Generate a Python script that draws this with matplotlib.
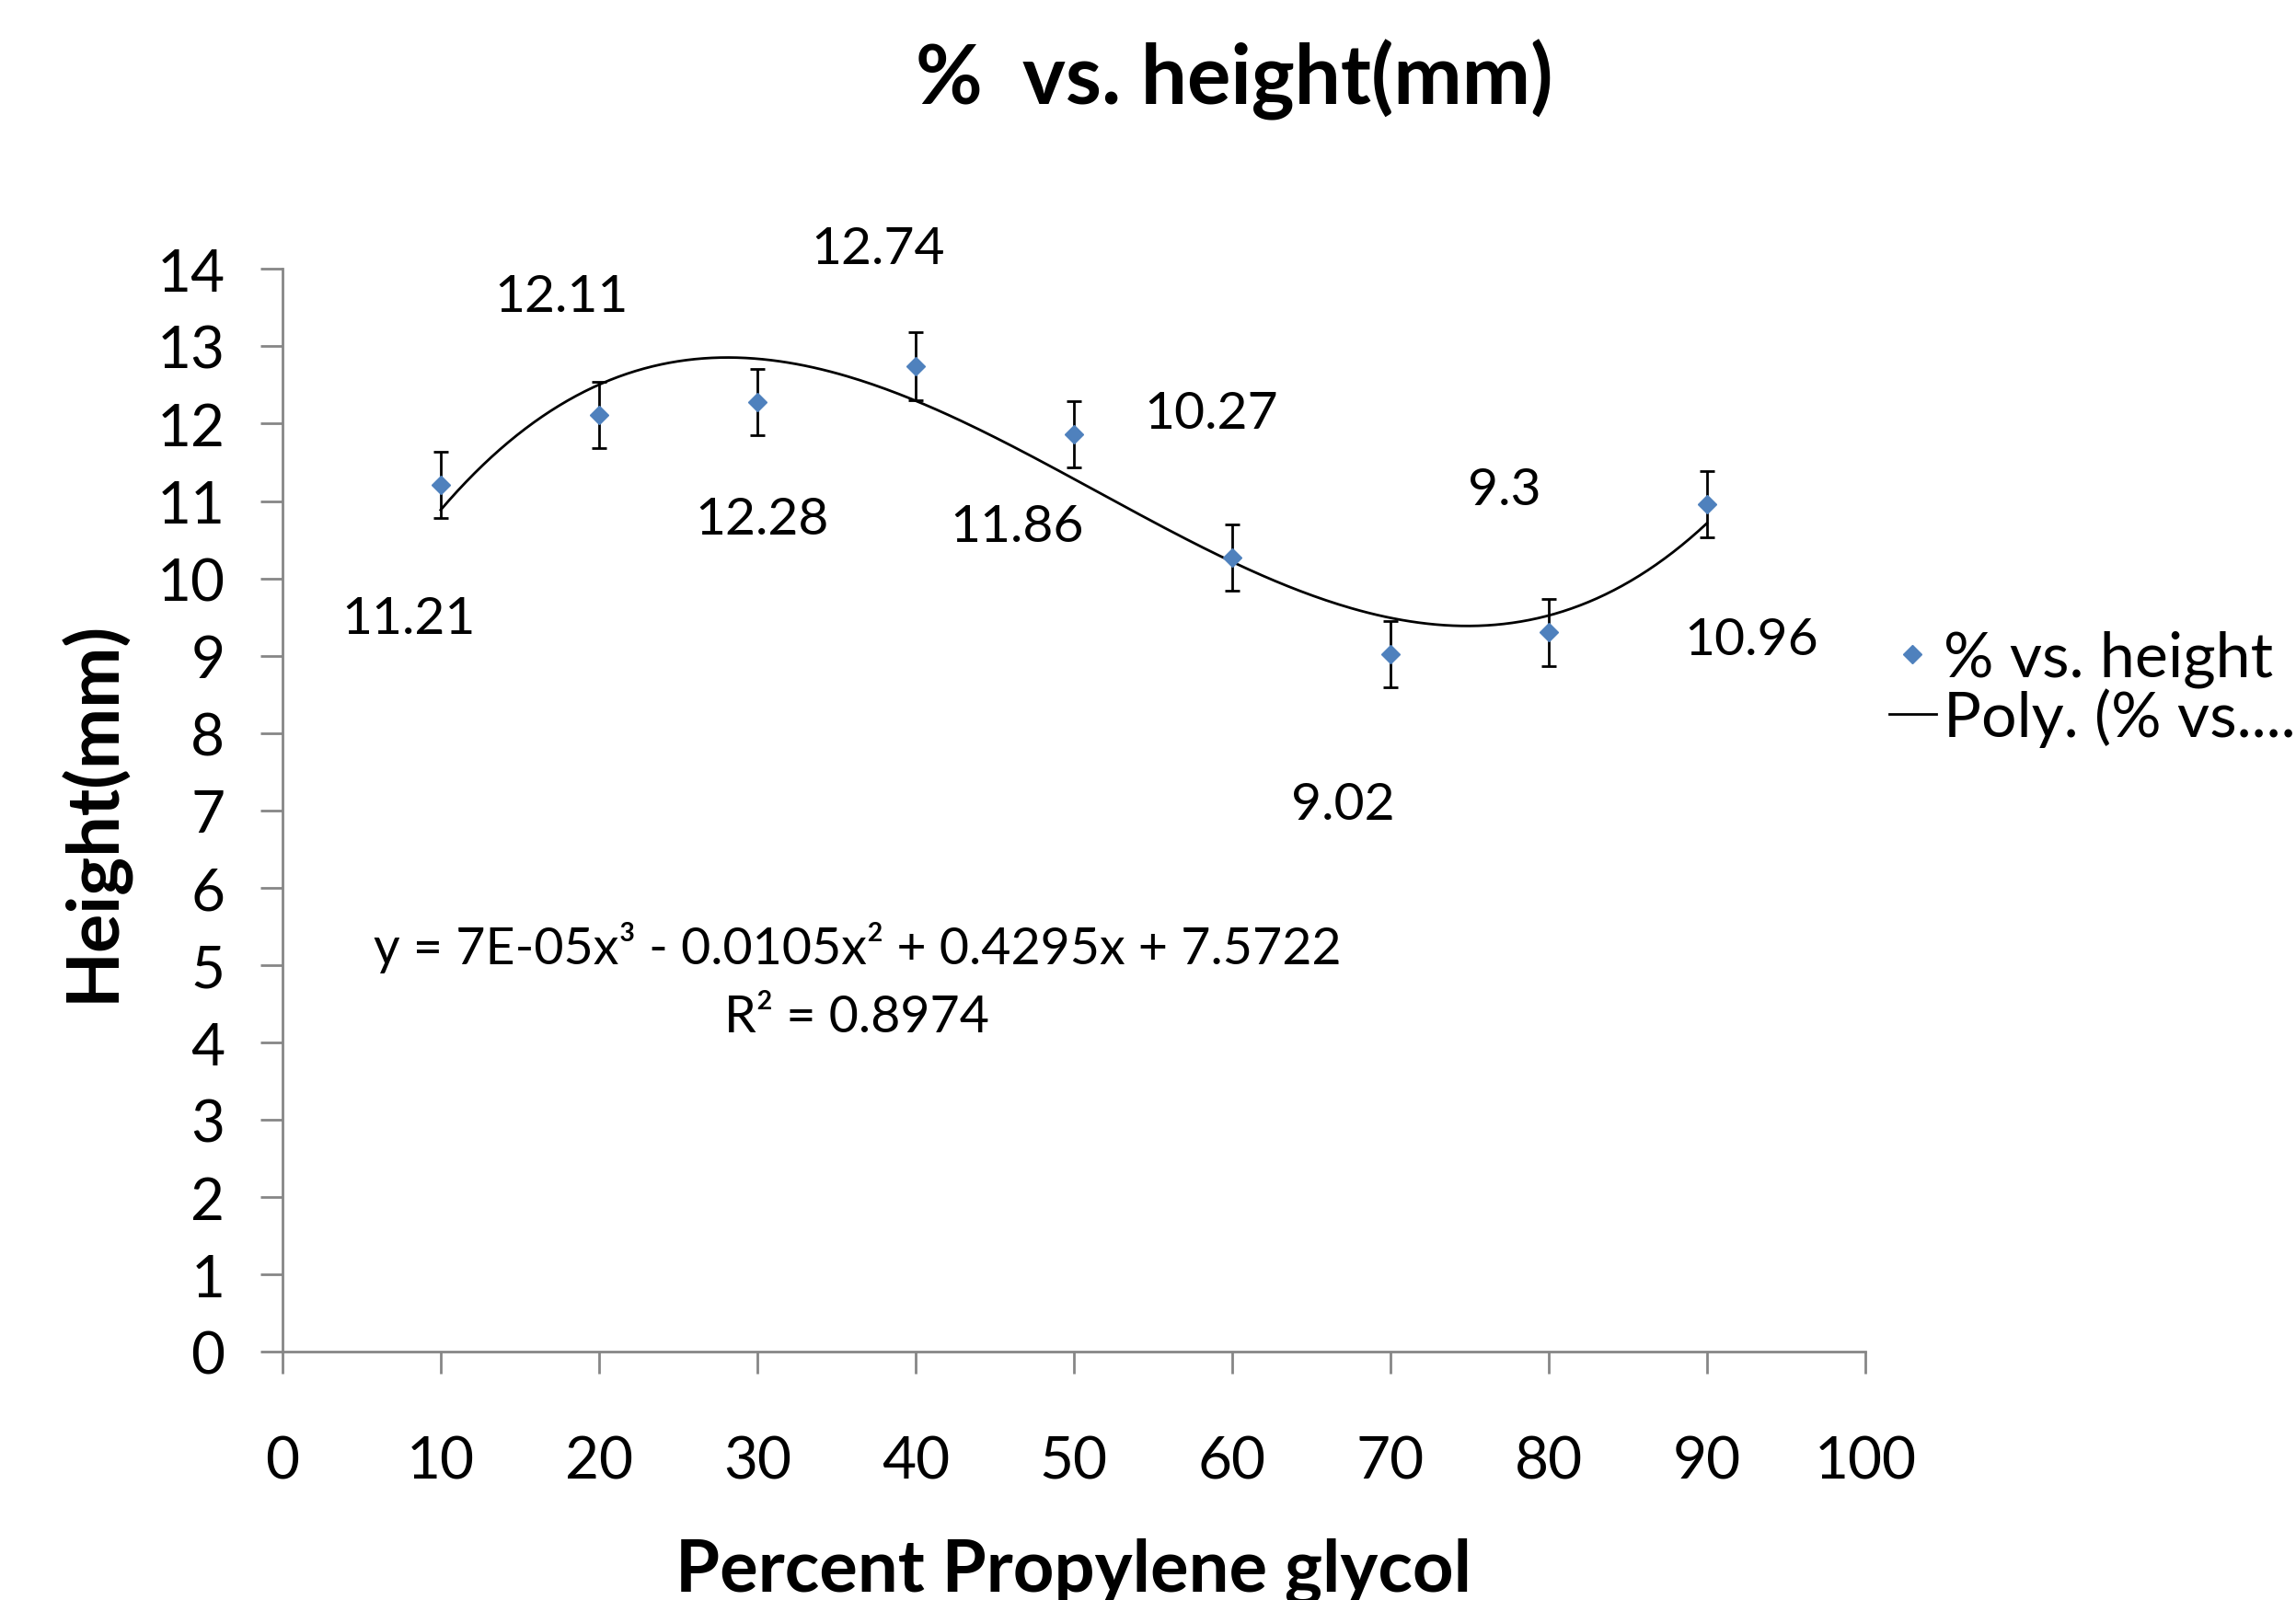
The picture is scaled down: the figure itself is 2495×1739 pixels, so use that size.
import numpy as np
import matplotlib
matplotlib.use('Agg')
import matplotlib.pyplot as plt
from matplotlib.lines import Line2D

plt.rcParams['font.family'] = ['Lato', 'DejaVu Sans']

# data
percent = [10, 20, 30, 40, 50, 60, 70, 80, 90]
height = [11.21, 12.11, 12.28, 12.74, 11.86, 10.27, 9.02, 9.3, 10.96]
err = [0.43, 0.43, 0.43, 0.44, 0.43, 0.43, 0.43, 0.43, 0.43]
labels = ['11.21', '12.11', '12.28', '12.74', '11.86', '10.27', '9.02', '9.3', '10.96']
# where Excel left the (dragged) data labels, in data units
label_x = [8.0, 17.6, 30.3, 37.6, 46.4, 58.7, 67.0, 77.2, 92.8]
label_y = [9.48, 13.64, 10.76, 14.26, 10.67, 12.13, 7.08, 11.14, 9.21]
xticks = list(range(0, 101, 10))
yticks = list(range(0, 15))

blue = '#4F81BD'
grey = '#868686'

fig = plt.figure(figsize=(24.95, 17.4), dpi=100)
ax = fig.add_axes([0.123, 0.155, 0.6894, 0.6764])

# cubic trendline like Excel's
coef = np.polyfit(percent, height, 3)
xs = np.linspace(min(percent), max(percent), 300)
ax.plot(xs, np.polyval(coef, xs), color='black', lw=2)

ax.errorbar(percent, height, yerr=err, fmt='none', ecolor='black',
            elinewidth=2, capsize=6, capthick=2)
ax.plot(percent, height, 'D', color=blue, markersize=10, zorder=5)

for lx, ly, t in zip(label_x, label_y, labels):
    ax.text(lx, ly, t, fontsize=41, ha='center', va='center')

ax.text(36.3, 5.24, 'y = 7E-05x³ - 0.0105x² + 0.4295x + 7.5722',
        fontsize=40, ha='center', va='center')
ax.text(36.3, 4.33, 'R² = 0.8974', fontsize=40, ha='center', va='center')

ax.set_xlim(0, 100)
ax.set_ylim(0, 14)
ax.set_xticks(xticks)
ax.set_yticks(yticks)
ax.tick_params(axis='both', labelsize=46, color=grey, width=2, length=17)
ax.tick_params(axis='x', pad=48)
ax.tick_params(axis='y', pad=28)
for s in ['top', 'right']:
    ax.spines[s].set_visible(False)
for s in ['left', 'bottom']:
    ax.spines[s].set_color(grey)
    ax.spines[s].set_linewidth(2)

ax.set_xlabel('Percent Propylene glycol', fontsize=56, fontweight='bold', labelpad=38)
ax.set_ylabel('Height(mm)', fontsize=57, fontweight='bold', labelpad=22)

fig.text(0.5375, 0.95, '%  vs. height(mm)', ha='center', va='center',
         fontsize=64, fontweight='bold')

handles = [Line2D([], [], marker='D', color=blue, ls='none', markersize=10),
           Line2D([], [], color='black', lw=2)]
fig.legend(handles, ['% vs. height', 'Poly. (% vs....'], loc='center left',
           bbox_to_anchor=(0.8227, 0.5695), frameon=False, fontsize=49,
           handlelength=0.75, handletextpad=0.12, labelspacing=0.0,
           borderpad=0, borderaxespad=0)

fig.savefig('out.png', dpi=100)
